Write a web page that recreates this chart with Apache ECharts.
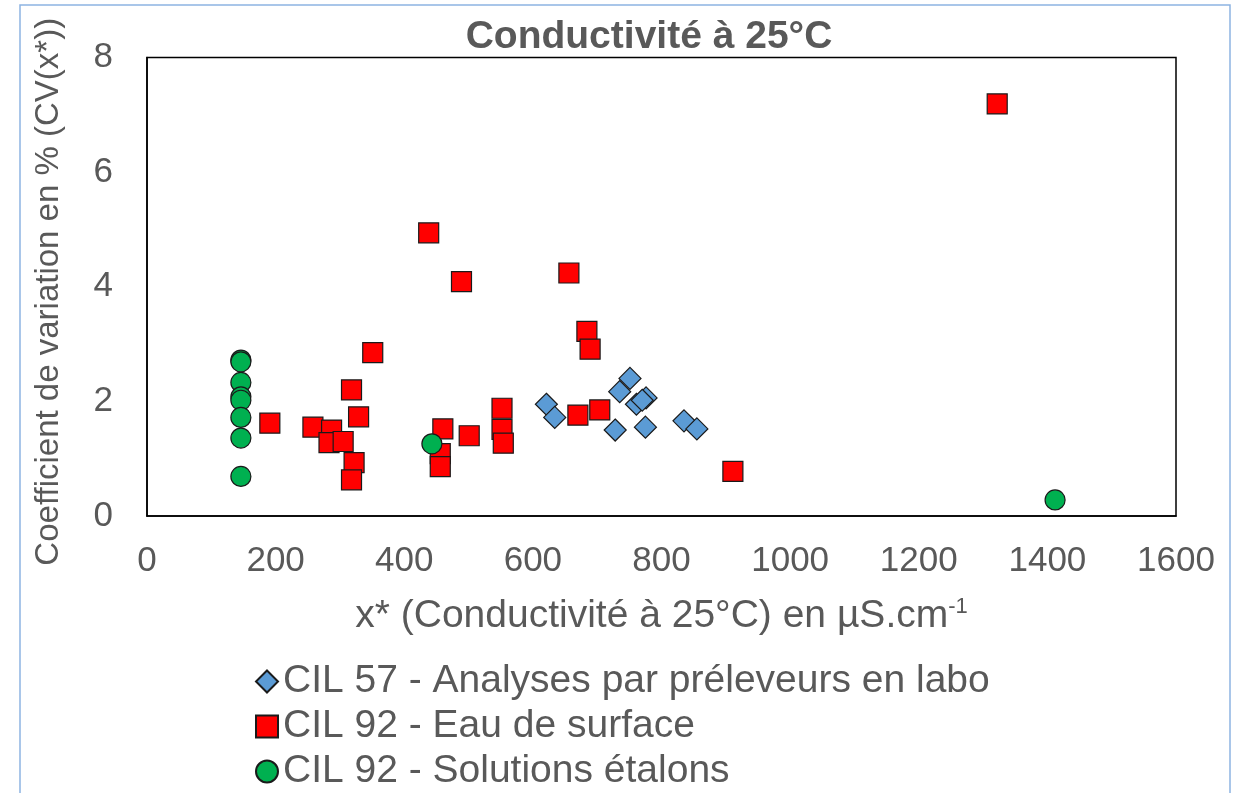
<!DOCTYPE html>
<html>
<head>
<meta charset="utf-8">
<script src="https://cdn.jsdelivr.net/npm/echarts@6/dist/echarts.min.js"></script>
<style>
html,body{margin:0;padding:0;background:#fff;}
#c{width:1234px;height:793px;}
</style>
</head>
<body>
<div id="c"></div>
<script>
var titleText = 'Conductivité à 25°C';
var seriesNames = ['CIL 57 - Analyses par préleveurs en labo', 'CIL 92 - Eau de surface', 'CIL 92 - Solutions étalons'];
var xTicks = [0, 200, 400, 600, 800, 1000, 1200, 1400, 1600];
var yTicks = [0, 2, 4, 6, 8];

var cil57Labo = [
  [621, 1.95], [634, 1.72], [751, 2.40], [735, 2.17], [761, 1.95],
  [776, 2.06], [770, 2.02], [728, 1.50], [775, 1.55], [835, 1.66], [855, 1.52]
];
var cil92Surface = [
  [191, 1.62], [258, 1.55], [287, 1.50], [283, 1.28], [305, 1.30],
  [322, 0.93], [318, 0.63], [329, 1.73], [318, 2.20], [351, 2.85],
  [438, 4.94], [489, 4.09], [656, 4.24], [684, 3.22], [689, 2.91],
  [552, 1.88], [460, 1.52], [501, 1.40], [552, 1.51], [554, 1.27],
  [456, 1.09], [456, 0.86], [670, 1.76], [704, 1.85], [911, 0.78],
  [1322, 7.19]
];
var cil92Etalons = [
  [146, 2.72], [146, 2.69], [146, 2.33], [146, 2.08], [146, 2.02],
  [146, 1.72], [146, 1.36], [146, 0.69], [443, 1.26], [1412, 0.28]
];

var txt = '#595959';
var ff = '"Liberation Sans", Arial, sans-serif';
var chart = echarts.init(document.getElementById('c'));
chart.setOption({
  animation: false,
  backgroundColor: '#fff',
  textStyle: {fontFamily: ff},
  title: {
    text: titleText,
    left: 644, top: 13, textAlign: 'center',
    textStyle: {fontFamily: ff, fontSize: 39, fontWeight: 'bold', color: txt}
  },
  graphic: [{
    type: 'rect', shape: {x: 20, y: 5, width: 1210, height: 800},
    style: {fill: 'none', stroke: '#8DB4E2', lineWidth: 1.5}, silent: true, z: 100
  }],
  grid: {
    left: 147, right: 58, top: 57.5, bottom: 277,
    show: true, borderColor: '#000', borderWidth: 1.5, backgroundColor: 'transparent'
  },
  legend: {
    orient: 'vertical', left: 250, top: 657, height: 200,
    itemWidth: 22, itemHeight: 22, itemGap: 6,
    data: seriesNames,
    textStyle: {fontFamily: ff, fontSize: 39, color: txt}
  },
  xAxis: {
    type: 'value', min: xTicks[0], max: xTicks[xTicks.length - 1], interval: 200,
    axisLine: {show: true, lineStyle: {color: '#000', width: 1.5}},
    axisTick: {show: false}, splitLine: {show: false},
    axisLabel: {fontFamily: ff, fontSize: 35, color: txt, margin: 28, formatter: function (v) { return String(v); }},
    name: '{a|x* (Conductivité à 25°C) en µS.cm}{s|-1}',
    nameLocation: 'middle', nameGap: 80,
    nameTextStyle: {
      rich: {
        a: {fontFamily: ff, fontSize: 39, color: txt},
        s: {fontFamily: ff, fontSize: 22, color: txt, verticalAlign: 'top', padding: [0, 0, 18, 0]}
      }
    }
  },
  yAxis: {
    type: 'value', min: yTicks[0], max: yTicks[yTicks.length - 1], interval: 2,
    axisLine: {show: true, lineStyle: {color: '#000', width: 1.5}},
    axisTick: {show: false}, splitLine: {show: false},
    axisLabel: {fontFamily: ff, fontSize: 35, color: txt, margin: 34},
    name: 'Coefficient de variation en % (CV(x*))',
    nameLocation: 'middle', nameGap: 82,
    nameTextStyle: {fontFamily: ff, fontSize: 33, color: txt, padding: [0, 10, 0, 0]}
  },
  series: [
    {
      name: seriesNames[0], type: 'scatter', symbol: 'diamond', symbolSize: 22,
      data: cil57Labo,
      itemStyle: {color: '#5B9BD5', borderColor: '#1a1a1a', borderWidth: 1.2, opacity: 1}, z: 2
    },
    {
      name: seriesNames[1], type: 'scatter', symbol: 'rect', symbolSize: 20,
      data: cil92Surface,
      itemStyle: {color: '#FF0000', borderColor: '#1a1a1a', borderWidth: 1.2, opacity: 1}, z: 3
    },
    {
      name: seriesNames[2], type: 'scatter', symbol: 'circle', symbolSize: 20,
      data: cil92Etalons,
      itemStyle: {color: '#00B050', borderColor: '#1a1a1a', borderWidth: 1.2, opacity: 1}, z: 4
    }
  ]
});
</script>
</body>
</html>
